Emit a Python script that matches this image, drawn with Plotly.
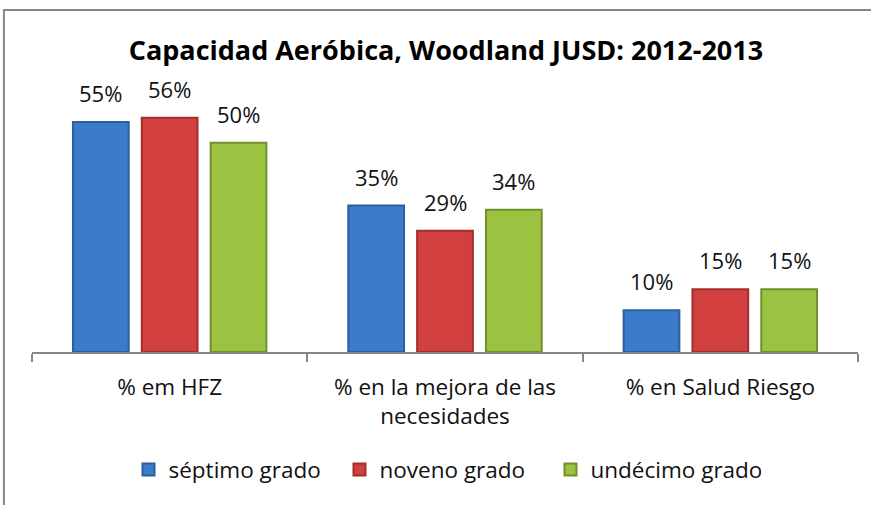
import plotly.graph_objects as go

categories = ["% em HFZ", "% en la mejora de las<br>necesidades", "% en Salud Riesgo"]
series_names = ["séptimo grado", "noveno grado", "undécimo grado"]
septimo = [55, 35, 10]
noveno = [56, 29, 15]
undecimo = [50, 34, 15]

fills = ["#3b7cca", "#d13f3e", "#9cc242"]
edges = ["#2b5f9e", "#a22f2e", "#708f2d"]

W, H = 871, 505
ML, MR, MT, MB = 32, 13, 101, 153
bargap = 0.25
groupgap = 0.19

fig = go.Figure()
for name, vals, fc, ec in zip(series_names, [septimo, noveno, undecimo], fills, edges):
    fig.add_trace(go.Bar(
        x=categories,
        y=vals,
        name=name,
        marker=dict(color=fc, line=dict(color=ec, width=2)),
    ))

# value labels above bars, a bit higher than plotly's default "outside" text
cat_px = (W - ML - MR) / len(categories)
slot_px = cat_px * (1 - bargap) / len(series_names)
annotations = []
for i, vals in enumerate([septimo, noveno, undecimo]):
    for c, v in zip(categories, vals):
        annotations.append(dict(
            x=c, y=v, xref="x", yref="y",
            text=f"{v}%", showarrow=False,
            xanchor="center", yanchor="bottom",
            xshift=(i - 1) * slot_px, yshift=12,
            font=dict(size=22, color="#111111"),
        ))

fig.update_layout(
    width=W,
    height=H,
    barmode="group",
    bargap=bargap,
    bargroupgap=groupgap,
    margin=dict(l=ML, r=MR, t=MT, b=MB),
    paper_bgcolor="white",
    plot_bgcolor="white",
    font=dict(family="Open Sans, sans-serif", size=22.5, color="#111111"),
    title=dict(
        text="<b>Capacidad Aeróbica, Woodland JUSD: 2012-2013</b>",
        x=0.512, xanchor="center",
        y=0.9, yanchor="middle",
        font=dict(size=27, color="#000000"),
    ),
    showlegend=True,
    legend=dict(
        orientation="h",
        x=0.5, xanchor="center",
        y=-0.47, yanchor="middle",
        font=dict(size=22.5),
        itemwidth=30,
        entrywidth=166,
        traceorder="normal",
    ),
    xaxis=dict(
        showline=True,
        linecolor="#868686",
        linewidth=1.5,
        ticks="outside",
        tickson="boundaries",
        ticklen=8,
        tickcolor="#868686",
        tickwidth=1.5,
        ticklabelstandoff=14,
        showgrid=False,
    ),
    yaxis=dict(
        range=[0, 60],
        visible=False,
        showgrid=False,
    ),
    annotations=annotations,
    shapes=[dict(
        type="rect", xref="paper", yref="paper",
        x0=-0.034, x1=1.2, y0=-1.0, y1=1.3625,
        line=dict(color="#868686", width=2),
        fillcolor="rgba(0,0,0,0)",
        layer="below",
    )],
)

fig.write_html(
    "out.html",
    config={"displayModeBar": False},
    post_script="document.body.style.margin='0';",
)
